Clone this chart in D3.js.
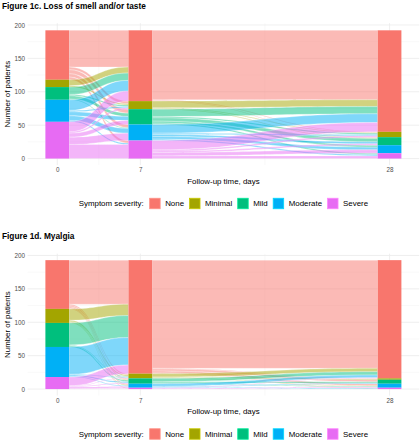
<!DOCTYPE html>
<html>
<head>
<meta charset="utf-8">
<script src="https://cdn.jsdelivr.net/npm/d3@7"></script>
<style>
  html, body { margin: 0; padding: 0; background: #fff; }
  svg { display: block; font-family: "Liberation Sans", Arial, sans-serif; }
</style>
</head>
<body>
<svg id="chart" width="420" height="440"></svg>
<script>
// ---- Data ----
const strata = ["None", "Minimal", "Mild", "Moderate", "Severe"];
const strataColors = ["#F8766D", "#A3A500", "#00BF7D", "#00B0F6", "#E76BF3"];
const days = [0, 7, 28];
const xTicks = [0, 7, 28];
const yTicks = [0, 50, 100, 150, 200];

// Figure 1c: loss of smell and/or taste (patients per severity at each day)
const smellDay0 = [74, 11, 19, 33, 55];
const smellDay7 = [106, 12, 23, 24, 27];
const smellDay28 = [152, 8, 12, 12, 8];
// transitions (rows: from stratum, cols: to stratum)
const smellFlow0to7 = [
  [55, 4, 6, 5, 4],
  [9, 2, 0, 0, 0],
  [11, 2, 5, 1, 0],
  [16, 2, 6, 7, 2],
  [15, 2, 6, 11, 21]
];
const smellFlow7to28 = [
  [104, 1, 1, 0, 0],
  [10, 1, 1, 0, 0],
  [11, 2, 5, 3, 2],
  [13, 2, 3, 4, 2],
  [14, 2, 2, 5, 4]
];

// Figure 1d: myalgia
const myalgiaDay0 = [73, 21, 36, 45, 18];
const myalgiaDay7 = [170, 7, 8, 6, 2];
const myalgiaDay28 = [177, 2, 6, 6, 2];
const myalgiaFlow0to7 = [
  [66, 2, 2, 2, 1],
  [17, 2, 1, 1, 0],
  [33, 1, 2, 0, 0],
  [41, 1, 2, 1, 0],
  [13, 1, 1, 2, 1]
];
const myalgiaFlow7to28 = [
  [162, 1, 3, 3, 1],
  [5, 1, 0, 1, 0],
  [5, 0, 2, 1, 0],
  [4, 0, 1, 0, 1],
  [1, 0, 0, 1, 0]
];

const panels = [
  { title: "Figure 1c. Loss of smell and/or taste", counts: [smellDay0, smellDay7, smellDay28],
    flows: [smellFlow0to7, smellFlow7to28], top: 0 },
  { title: "Figure 1d. Myalgia", counts: [myalgiaDay0, myalgiaDay7, myalgiaDay28],
    flows: [myalgiaFlow0to7, myalgiaFlow7to28], top: 230.5 }
];

// ---- Drawing ----
const svg = d3.select("#chart");
const color = d3.scaleOrdinal().domain(strata).range(strataColors);

const plotLeft = 27.6, plotRight = 419.2;
const plotTop = 23.2, plotBottom = 165;
const barW = 2; // days
const xDom = [-1 - 1.5, 29 + 1.5];
const x = d3.scaleLinear().domain(xDom).range([plotLeft, plotRight]);
const yMax = 193;
const yDom = [-yMax * 0.05, yMax * 1.05];
const tickFs = 6.3, titleFs = 7.9;

panels.forEach(p => {
  const g = svg.append("g").attr("transform", `translate(0,${p.top})`);
  const y = d3.scaleLinear().domain(yDom).range([plotBottom, plotTop]);

  // title
  g.append("text").attr("x", 2).attr("y", 8.5)
    .attr("font-size", 8.3).attr("font-weight", "bold").attr("fill", "#000")
    .text(p.title);

  // grid
  const minorY = [25, 75, 125, 175];
  const minorX = [3.5, 17.5];
  g.append("g").selectAll("line").data(minorY).join("line")
    .attr("x1", plotLeft).attr("x2", plotRight)
    .attr("y1", d => y(d)).attr("y2", d => y(d))
    .attr("stroke", "#F2F2F2").attr("stroke-width", 0.5);
  g.append("g").selectAll("line").data(minorX).join("line")
    .attr("y1", plotTop).attr("y2", plotBottom)
    .attr("x1", d => x(d)).attr("x2", d => x(d))
    .attr("stroke", "#F2F2F2").attr("stroke-width", 0.5);
  g.append("g").selectAll("line").data(yTicks).join("line")
    .attr("x1", plotLeft).attr("x2", plotRight)
    .attr("y1", d => y(d)).attr("y2", d => y(d))
    .attr("stroke", "#EBEBEB").attr("stroke-width", 0.8);
  g.append("g").selectAll("line").data(xTicks).join("line")
    .attr("y1", plotTop).attr("y2", plotBottom)
    .attr("x1", d => x(d)).attr("x2", d => x(d))
    .attr("stroke", "#EBEBEB").attr("stroke-width", 0.8);

  // axes (text only)
  const yAxis = d3.axisLeft(y).tickValues(yTicks).tickSize(0).tickPadding(2.5);
  const ya = g.append("g").attr("transform", `translate(${plotLeft},0)`).call(yAxis);
  ya.select(".domain").remove();
  ya.selectAll("text").attr("font-size", tickFs).attr("fill", "#4D4D4D").attr("font-family", "Liberation Sans, Arial, sans-serif");

  const xAxis = d3.axisBottom(x).tickValues(xTicks).tickSize(0).tickPadding(2.8);
  const xa = g.append("g").attr("transform", `translate(0,${plotBottom})`).call(xAxis);
  xa.select(".domain").remove();
  xa.selectAll("text").attr("font-size", tickFs).attr("fill", "#4D4D4D").attr("font-family", "Liberation Sans, Arial, sans-serif");

  // axis titles
  g.append("text").attr("transform", `translate(9.5,${(plotTop + plotBottom) / 2}) rotate(-90)`)
    .attr("text-anchor", "middle").attr("font-size", titleFs).attr("fill", "#000")
    .text("Number of patients");
  g.append("text").attr("x", (plotLeft + plotRight) / 2).attr("y", 183.5)
    .attr("text-anchor", "middle").attr("font-size", titleFs).attr("fill", "#000")
    .text("Follow-up time, days");

  // stratum positions
  const stackPos = p.counts.map(arr => {
    let cum = d3.sum(arr);
    return arr.map(v => { const top = cum; cum -= v; return { top, bottom: cum }; });
  });

  // flows
  const flowG = g.append("g");
  p.flows.forEach((mat, a) => {
    const x0 = x(days[a] + barW / 2), x1 = x(days[a + 1] - barW / 2);
    const xm = (x0 + x1) / 2;
    const outOff = stackPos[a].map(s => s.top);
    const inOff = stackPos[a + 1].map(s => s.top);
    const items = [];
    const outPos = mat.map((row, i) => row.map(v => { const t = outOff[i]; outOff[i] -= v; return [t, outOff[i]]; }));
    const inPos = mat.map(row => row.map(() => null));
    for (let j = 0; j < strata.length; j++) {
      for (let i = 0; i < strata.length; i++) {
        const v = mat[i][j];
        const t = inOff[j]; inOff[j] -= v; inPos[i][j] = [t, inOff[j]];
      }
    }
    for (let i = 0; i < strata.length; i++) for (let j = 0; j < strata.length; j++) {
      if (mat[i][j] > 0) items.push({ i, j, o: outPos[i][j], n: inPos[i][j] });
    }
    flowG.selectAll(null).data(items).join("path")
      .attr("d", d => {
        const a0 = y(d.o[0]), a1 = y(d.o[1]), b0 = y(d.n[0]), b1 = y(d.n[1]);
        return `M${x0},${a0}C${xm},${a0} ${xm},${b0} ${x1},${b0}L${x1},${b1}C${xm},${b1} ${xm},${a1} ${x0},${a1}Z`;
      })
      .attr("fill", d => color(strata[d.i]))
      .attr("fill-opacity", 0.5)
      .attr("stroke", "#fff").attr("stroke-width", 0.35).attr("stroke-opacity", 0.8);
  });

  // strata bars
  const barG = g.append("g");
  p.counts.forEach((arr, a) => {
    barG.selectAll(null).data(arr.map((v, k) => ({ k, v, pos: stackPos[a][k] })).filter(d => d.v > 0))
      .join("rect")
      .attr("x", x(days[a] - barW / 2))
      .attr("width", x(days[a] + barW / 2) - x(days[a] - barW / 2))
      .attr("y", d => y(d.pos.top))
      .attr("height", d => y(d.pos.bottom) - y(d.pos.top))
      .attr("fill", d => color(strata[d.k]));
  });

  // legend
  const lg = g.append("g").attr("transform", `translate(0,203.5)`);
  const fs = titleFs;
  const title = lg.append("text").attr("font-size", fs).attr("fill", "#000").attr("y", 2.8).text("Symptom severity:");
  const keyS = 11.5, gapKT = 4.5, gapTK = 5, gapTitle = 5.5;
  let cx = title.node().getComputedTextLength() + gapTitle;
  strata.forEach((s, k) => {
    const kx = cx;
    lg.append("rect").attr("x", kx + 0.5).attr("y", -keyS / 2 + 0.5).attr("width", keyS - 1).attr("height", keyS - 1)
      .attr("fill", color(s)).attr("stroke", d3.color(color(s)).brighter(0.6)).attr("stroke-width", 0.8);
    const t = lg.append("text").attr("x", kx + keyS + gapKT).attr("y", 2.8).attr("font-size", fs).attr("fill", "#000").text(s);
    cx = kx + keyS + gapKT + t.node().getComputedTextLength() + gapTK;
  });
  const totalW = cx - gapTK;
  const startX = (plotLeft + plotRight) / 2 - totalW / 2;
  lg.attr("transform", `translate(${startX},203.5)`);
});
</script>
</body>
</html>
